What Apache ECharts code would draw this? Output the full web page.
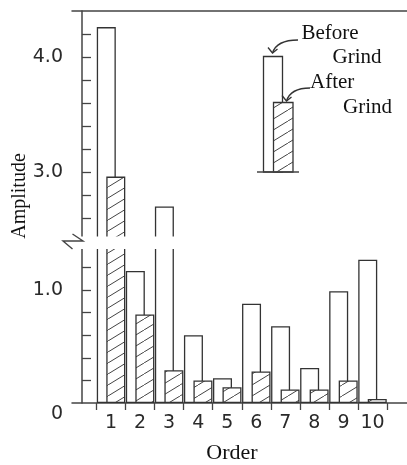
<!DOCTYPE html>
<html>
<head>
<meta charset="utf-8">
<script src="https://cdn.jsdelivr.net/npm/echarts@6/dist/echarts.min.js"></script>
<style>
html,body{margin:0;padding:0;background:#fff;}
#main{width:407px;height:465px;}
</style>
</head>
<body>
<div id="main"></div>
<script>
// ---- data ----
const categories = [1, 2, 3, 4, 5, 6, 7, 8, 9, 10];
const beforeGrind = [4.26, 1.17, 2.70, 0.60, 0.22, 0.88, 0.68, 0.31, 0.99, 1.27];
const afterGrind = [2.96, 0.785, 0.29, 0.20, 0.14, 0.28, 0.12, 0.12, 0.20, 0.035];
const lowerTicks = [0.2, 0.4, 0.6, 0.8, 1.0, 1.2];
const upperTicks = [2.6, 2.8, 3.0, 3.2, 3.4, 3.6, 3.8, 4.0, 4.2];
const lowerLabels = [0, 1.0];
const upperLabels = [3.0, 4.0];
const lowerRange = [0, 1.4];
const upperRange = [2.4, 4.4];
const xBoundaries = [0.5, 1.5, 2.5, 3.5, 4.5, 5.5, 6.5, 7.5, 8.5, 9.5, 10.5];

// hatch pattern
function makeHatch() {
  const c = document.createElement('canvas');
  const w = 18, h = 11;
  c.width = w; c.height = h;
  const ctx = c.getContext('2d');
  ctx.fillStyle = '#fff';
  ctx.fillRect(0, 0, w, h);
  ctx.strokeStyle = '#444';
  ctx.lineWidth = 1.0;
  [-w, 0, w].forEach(function (o) {
    ctx.beginPath();
    ctx.moveTo(o, h);
    ctx.lineTo(o + w, 0);
    ctx.stroke();
  });
  return c;
}
const hatch = { image: makeHatch(), repeat: 'repeat' };

const sans = 'DejaVu Sans';
const serif = 'Liberation Serif';
const lineCol = '#444';
const xMin = -0.344, xMax = 11.188;

function pairs(vals, filt) {
  return categories.map(function (c, i) {
    return filt(vals[i]) ? [c, vals[i]] : [c, '-'];
  });
}

const chart = echarts.init(document.getElementById('main'));
const barStyleBefore = { color: '#fff', borderColor: '#333', borderWidth: 1.3 };
const barStyleAfter = { color: hatch, borderColor: '#333', borderWidth: 1.3 };

const option = {
  animation: false,
  backgroundColor: '#fff',
  grid: [
    { left: 72, right: 0, top: 11, height: 230 },
    { left: 72, right: 0, top: 245, height: 161 }
  ],
  xAxis: [
    {
      gridIndex: 0, type: 'value', min: xMin, max: xMax, position: 'top',
      axisLine: { show: true, lineStyle: { color: lineCol, width: 1.5 } },
      axisTick: { show: false }, axisLabel: { show: false }, splitLine: { show: false }
    },
    {
      gridIndex: 1, type: 'value', min: xMin, max: xMax, position: 'bottom',
      axisLine: { show: true, onZero: false, lineStyle: { color: lineCol, width: 1.5 } },
      axisTick: { show: true, customValues: xBoundaries, length: 7, lineStyle: { color: lineCol, width: 1.3 } },
      axisLabel: { show: true, customValues: categories, margin: 11, fontSize: 19, fontFamily: sans, color: '#2a2a2a' },
      splitLine: { show: false },
      name: 'Order', nameLocation: 'middle', nameGap: 39,
      nameTextStyle: { fontFamily: serif, fontSize: 22, color: '#111', padding: [0, 15, 0, 0] }
    }
  ],
  yAxis: [
    {
      gridIndex: 0, type: 'value', min: upperRange[0], max: upperRange[1],
      axisLine: { show: true, lineStyle: { color: lineCol, width: 1.5 } },
      axisTick: { show: true, inside: true, length: 9, customValues: upperTicks, lineStyle: { color: lineCol, width: 1.3 } },
      axisLabel: { show: true, customValues: upperLabels, margin: 9, fontSize: 19, fontFamily: sans, color: '#2a2a2a',
        formatter: function (v) { return Number(v).toFixed(1); } },
      splitLine: { show: false }
    },
    {
      gridIndex: 1, type: 'value', min: lowerRange[0], max: lowerRange[1],
      axisLine: { show: true, lineStyle: { color: lineCol, width: 1.5 } },
      axisTick: { show: true, inside: true, length: 9, customValues: lowerTicks, lineStyle: { color: lineCol, width: 1.3 } },
      axisLabel: { show: true, customValues: lowerLabels, margin: 9, fontSize: 19, fontFamily: sans, color: '#2a2a2a',
        formatter: function (v) { return Number(v) === 0 ? '{z|0}' : Number(v).toFixed(1); },
        rich: { z: { fontSize: 19, fontFamily: sans, color: '#2a2a2a', padding: [22, 0, 0, 0] } } },
      splitLine: { show: false }
    }
  ],
  series: [
    {
      name: 'Before Grind', type: 'bar', xAxisIndex: 0, yAxisIndex: 0,
      barWidth: 19, barGap: '-50%', clip: true,
      data: pairs(beforeGrind, function (v) { return v > upperRange[0]; }),
      itemStyle: barStyleBefore
    },
    {
      name: 'After Grind', type: 'bar', xAxisIndex: 0, yAxisIndex: 0,
      barWidth: 19, barGap: '-50%', clip: true,
      data: pairs(afterGrind, function (v) { return v > upperRange[0]; }),
      itemStyle: barStyleAfter
    },
    {
      name: 'Before Grind', type: 'bar', xAxisIndex: 1, yAxisIndex: 1,
      barWidth: 19, barGap: '-50%', clip: true,
      data: pairs(beforeGrind, function () { return true; }),
      itemStyle: barStyleBefore
    },
    {
      name: 'After Grind', type: 'bar', xAxisIndex: 1, yAxisIndex: 1,
      barWidth: 19, barGap: '-50%', clip: true,
      data: pairs(afterGrind, function () { return true; }),
      itemStyle: barStyleAfter
    }
  ],
  graphic: [
    // axis break band
    { type: 'rect', z: 100, shape: { x: 64, y: 236.5, width: 343, height: 12.5 }, style: { fill: '#fff' } },
    { type: 'polyline', z: 101, shape: { points: [[72.5, 234], [83, 241], [63, 241], [72.5, 249]] },
      style: { stroke: lineCol, lineWidth: 1.4, fill: null } },
    // y axis title
    { type: 'text', z: 101, x: 20, y: 196, rotation: Math.PI / 2,
      style: { text: 'Amplitude', font: '20px "Liberation Serif"', fill: '#111', align: 'center', verticalAlign: 'middle' } },
    // legend mini-chart
    { type: 'rect', z: 101, shape: { x: 263.5, y: 56.5, width: 19, height: 115.5 },
      style: { fill: '#fff', stroke: '#333', lineWidth: 1.3 } },
    { type: 'rect', z: 102, shape: { x: 273.5, y: 102.5, width: 19.5, height: 69.5 },
      style: { fill: hatch, stroke: '#333', lineWidth: 1.3 } },
    { type: 'line', z: 103, shape: { x1: 257, y1: 172, x2: 299, y2: 172 },
      style: { stroke: lineCol, lineWidth: 1.5 } },
    { type: 'bezierCurve', z: 103, shape: { x1: 298, y1: 40, cpx1: 284, cpy1: 40, cpx2: 275, cpy2: 45, x2: 272.5, y2: 53 },
      style: { stroke: '#333', lineWidth: 1.3, fill: null } },
    { type: 'polyline', z: 103, shape: { points: [[268, 47.5], [272.5, 53], [277.5, 49]] },
      style: { stroke: '#333', lineWidth: 1.3, fill: null } },
    { type: 'bezierCurve', z: 103, shape: { x1: 310, y1: 88, cpx1: 296, cpy1: 88, cpx2: 289, cpy2: 93, x2: 286.5, y2: 101 },
      style: { stroke: '#333', lineWidth: 1.3, fill: null } },
    { type: 'polyline', z: 103, shape: { points: [[282, 95.5], [286.5, 101], [291.5, 97]] },
      style: { stroke: '#333', lineWidth: 1.3, fill: null } },
    { type: 'text', z: 103, x: 301.5, y: 33, style: { text: 'Before', font: '21px "Liberation Serif"', fill: '#111', verticalAlign: 'middle' } },
    { type: 'text', z: 103, x: 332.5, y: 57, style: { text: 'Grind', font: '21px "Liberation Serif"', fill: '#111', verticalAlign: 'middle' } },
    { type: 'text', z: 103, x: 310, y: 82, style: { text: 'After', font: '21px "Liberation Serif"', fill: '#111', verticalAlign: 'middle' } },
    { type: 'text', z: 103, x: 343, y: 107, style: { text: 'Grind', font: '21px "Liberation Serif"', fill: '#111', verticalAlign: 'middle' } }
  ]
};
chart.setOption(option);
</script>
</body>
</html>
